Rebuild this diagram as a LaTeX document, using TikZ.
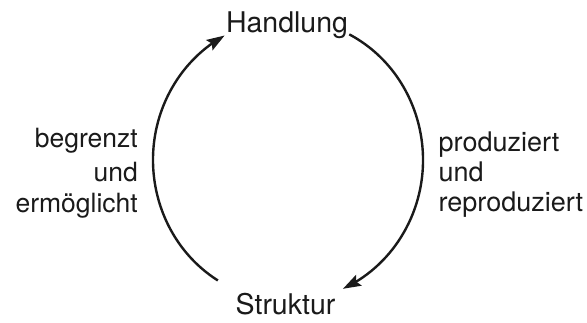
\documentclass[tikz,border=0pt]{standalone}
\usepackage{fontspec}
\setmainfont{TeX Gyre Heros}
\usetikzlibrary{arrows.meta,calc,bending}
\definecolor{ink}{HTML}{1A1A1A}
\tikzset{
  lbl/.style={inner sep=0pt,anchor=base,text=ink,font=\fontsize{26.5}{29}\selectfont},
  big/.style={lbl,font=\fontsize{28.5}{30}\selectfont},
  cyc/.style={draw=ink,line width=2.4pt,-{Stealth[length=18pt,width=12pt,inset=3pt,flex]}}
}
\begin{document}
\begin{tikzpicture}[x=1pt,y=1pt]
\useasboundingbox[fill=white] (0,0) rectangle (587,-323);
\node[big] (h) at (287,-33) {Handlung};
\node[big] (s) at (285.5,-315) {Struktur};
\node[lbl,anchor=base east] (l1) at (138,-148) {begrenzt};
\node[lbl,anchor=base east] (l2) at (138,-182) {und};
\node[lbl,anchor=base east] (l3) at (138,-213) {ermöglicht};
\node[lbl,anchor=base west,font=\fontsize{27}{29}\selectfont] (r1) at (438.5,-152) {produziert};
\node[lbl,anchor=base west,font=\fontsize{27}{29}\selectfont] (r2) at (438.5,-182) {und};
\node[lbl,anchor=base west,font=\fontsize{27}{29}\selectfont] (r3) at (438.5,-212) {reproduziert};
\coordinate (c) at (288,-160);
\coordinate (ls) at ($(c)+(238.7:135 and 141)$);
\coordinate (rs) at ($(c)+(63:135 and 141)$);
\draw[cyc] (ls) arc[start angle=238.7,end angle=118,x radius=135,y radius=141];
\draw[cyc] (rs) arc[start angle=63,end angle=-66,x radius=135,y radius=141];
\end{tikzpicture}
\end{document}
